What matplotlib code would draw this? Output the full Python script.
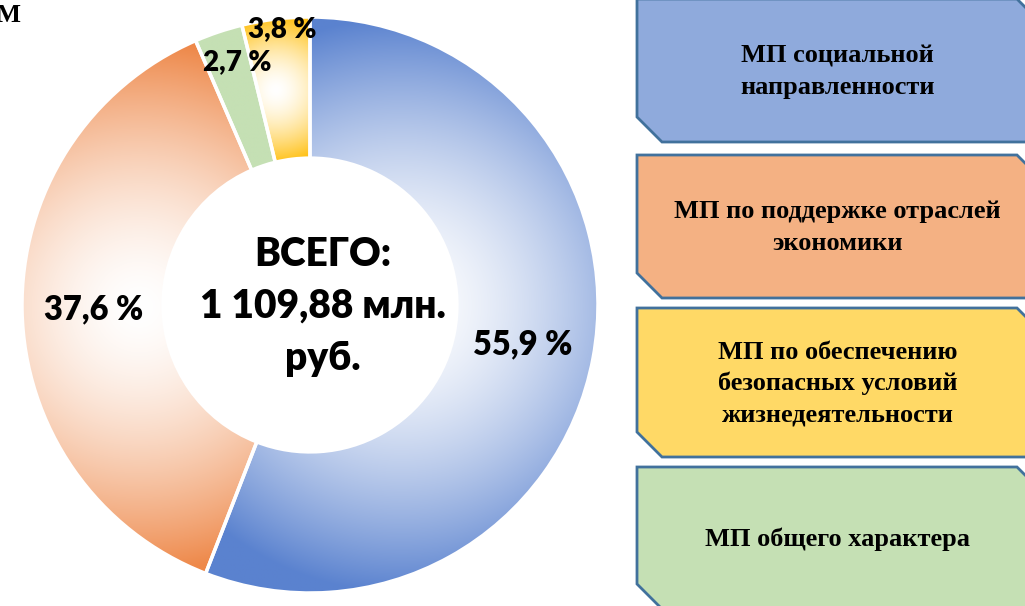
import matplotlib.pyplot as plt
import numpy as np
from matplotlib.patches import Polygon

# donut data
shares = [55.9, 37.6, 2.7, 3.8]
pct_labels = ['55,9 %', '37,6 %', '2,7 %', '3,8 %']
seg_colors = ['#5A82CF', '#EE8849', '#C5E0B4', '#FFC21A']
seg_gradient = [True, True, False, True]
total_text = 'ВСЕГО:\n1 109,88 млн.\nруб.'

# legend boxes on the right
box_labels = ['МП социальной\nнаправленности',
              'МП по поддержке отраслей\nэкономики',
              'МП по обеспечению\nбезопасных условий\nжизнедеятельности',
              'МП общего характера']
box_colors = ['#8FAADC', '#F4B183', '#FFD966', '#C5E0B4']

W, H = 1025, 606
fig = plt.figure(figsize=(W / 100, H / 100), dpi=100)

# background axes in pixel units for the boxes
bg = fig.add_axes([0, 0, 1, 1])
bg.set_xlim(0, W)
bg.set_ylim(H, 0)
bg.axis('off')

box_top = [-1, 155, 308, 467]
box_bot = [142, 298, 457, 609]
bl, br, cut = 637, 1042, 25
for lab, col, t, b in zip(box_labels, box_colors, box_top, box_bot):
    verts = [(bl, t), (br - cut, t), (br, t + cut), (br, b), (bl + cut, b), (bl, b - cut)]
    bg.add_patch(Polygon(verts, closed=True, facecolor=col, edgecolor='#41719C', lw=2))
    bg.text((bl + br) / 2 - 2, (t + b) / 2 + 1, lab, ha='center', va='center',
            fontfamily='Liberation Serif', fontweight='bold', fontsize=19, linespacing=1.45)

bg.text(20, 22, 'М', ha='right', va='baseline', fontfamily='Liberation Serif',
        fontweight='bold', fontsize=19)

# donut axes: centre at (310, 305) px, outer radius 288 px
cx, cy, R = 310, 305, 288
ax = fig.add_axes([(cx - R) / W, (H - cy - R) / H, 2 * R / W, 2 * R / H])
wedges, _ = ax.pie(shares, colors=seg_colors, startangle=90, counterclock=False, radius=1,
                   wedgeprops=dict(width=0.49, edgecolor='white', linewidth=2.5))
ax.set_xlim(-1, 1)
ax.set_ylim(-1, 1)
ax.axis('off')

n = 700
gx, gy = np.meshgrid(np.linspace(-1, 1, n), np.linspace(-1, 1, n))
for w, col, grad in zip(wedges, seg_colors, seg_gradient):
    rgb = np.array(plt.matplotlib.colors.to_rgb(col))
    if grad:
        ext = w.get_path().get_extents()
        mx, my = (ext.x0 + ext.x1) / 2, (ext.y0 + ext.y1) / 2
        rad = max(ext.width, ext.height) / 2
        t = np.clip(np.hypot(gx - mx, gy - my) / rad, 0, 1) ** 1.6
    else:
        t = np.ones_like(gx)
    img = 1 - t[..., None] * (1 - rgb)
    im = ax.imshow(img, extent=(-1, 1, -1, 1), origin='lower', interpolation='bilinear', zorder=1)
    im.set_clip_path(w)
    w.set_facecolor('none')
    w.set_zorder(2)

# percentage labels (the two small ones were nudged by hand in the original)
label_r = [0.75, 0.75, 0.89, 0.965]
label_dx = [0, 0, 0.03, 0.02]
label_size = [23.5, 23.5, 20, 20]
cum = np.cumsum(shares) - np.array(shares) / 2
for lab, c, r, dx, fs in zip(pct_labels, cum, label_r, label_dx, label_size):
    a = np.deg2rad(360 * c / sum(shares))
    ax.text(r * np.sin(a) + dx, r * np.cos(a), lab, ha='center', va='center',
            fontfamily='Lato', fontweight='heavy', fontsize=fs, zorder=3)

ax.text(0.045, -0.005, total_text, ha='center', va='center', fontfamily='Lato',
        fontweight='heavy', fontsize=28, linespacing=1.5, zorder=3)

fig.savefig('out.png', dpi=100)
